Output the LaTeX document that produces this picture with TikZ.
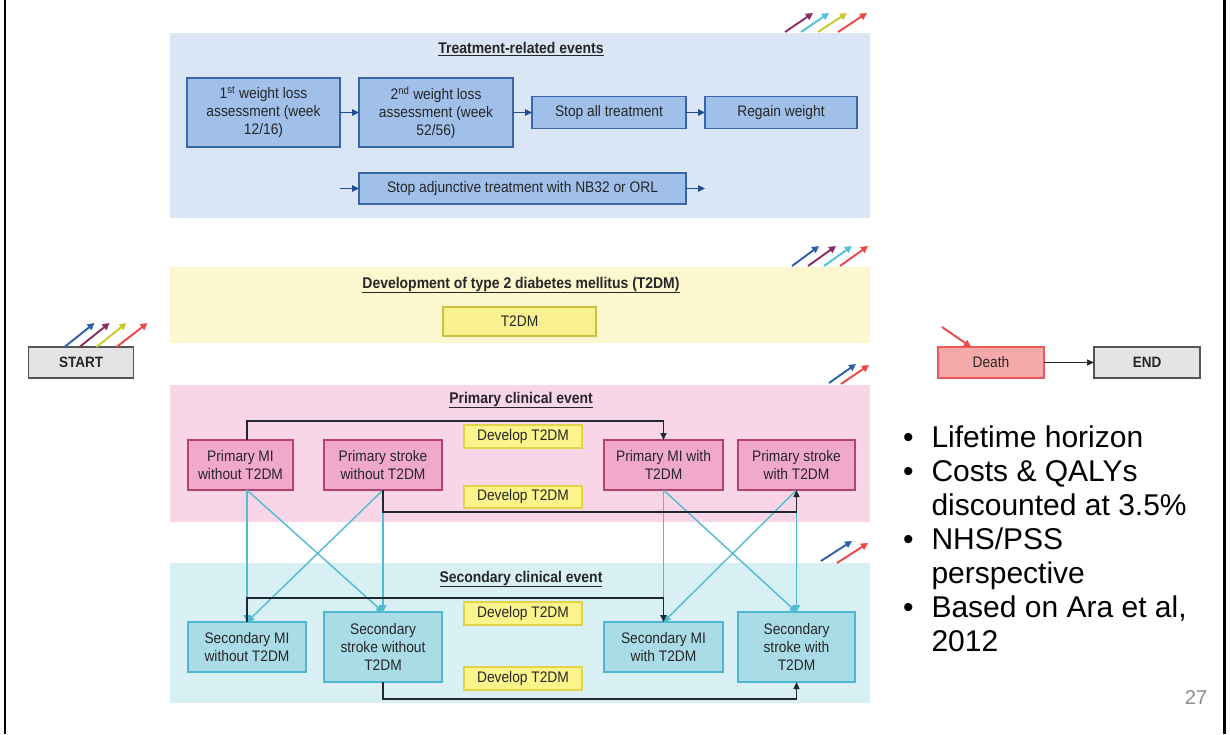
\documentclass[tikz,border=0pt]{standalone}
\usepackage{fontspec}
\setmainfont{Liberation Sans}
\newfontfamily\boxfont[FakeStretch=0.9]{Liberation Sans}
\usetikzlibrary{arrows.meta,calc}

\definecolor{tpanelc}{HTML}{DAE5F6}
\definecolor{tfill}{HTML}{A0C0EA}
\definecolor{tedge}{HTML}{3A64A8}
\definecolor{tarrow}{HTML}{1F4E8C}
\definecolor{ypanelc}{HTML}{FCF7CF}
\definecolor{yfill}{HTML}{F9F18F}
\definecolor{yedge}{HTML}{CDBF45}
\definecolor{ppanelc}{HTML}{F8D5E7}
\definecolor{pfill}{HTML}{F0A8CD}
\definecolor{pedge}{HTML}{B5426F}
\definecolor{spanelc}{HTML}{D8EFF4}
\definecolor{sfill}{HTML}{AADCE7}
\definecolor{sedge}{HTML}{4DB7D1}
\definecolor{dfill}{HTML}{FBF48B}
\definecolor{dedge}{HTML}{E3D34B}
\definecolor{cyanline}{HTML}{4FBCD3}
\definecolor{darkline}{HTML}{1E2833}
\definecolor{greyfill}{HTML}{E4E4E4}
\definecolor{greyedge}{HTML}{555555}
\definecolor{deathfill}{HTML}{F6A9A9}
\definecolor{deathedge}{HTML}{EC5959}
\definecolor{aBlue}{HTML}{2F5FA8}
\definecolor{aPurple}{HTML}{8B2B63}
\definecolor{aCyan}{HTML}{4EC3DA}
\definecolor{aYellow}{HTML}{C9C72A}
\definecolor{aRed}{HTML}{EF4545}
\definecolor{txt}{HTML}{262626}

\tikzset{
  every node/.style={inner sep=0pt, outer sep=0pt},
  boxtxt/.style={font=\boxfont\fontsize{15.3}{18}\selectfont, align=center, text=txt},
  panel/.style={draw=none},
  paneltitle/.style={font=\boxfont\bfseries\fontsize{15.5}{18}\selectfont, text=txt},
  tbox/.style={boxtxt, draw=tedge, fill=tfill, line width=1.2pt},
  ybox/.style={boxtxt, draw=yedge, fill=yfill, line width=1.1pt},
  pbox/.style={boxtxt, draw=pedge, fill=pfill, line width=1.2pt},
  sbox/.style={boxtxt, draw=sedge, fill=sfill, line width=1.2pt},
  devbox/.style={boxtxt, draw=dedge, fill=dfill, line width=1.1pt},
  greybox/.style={boxtxt, draw=greyedge, fill=greyfill, line width=1.2pt},
  deathbox/.style={boxtxt, draw=deathedge, fill=deathfill, line width=1.2pt},
  flow/.style={draw=tarrow, line width=1.3pt, -{Triangle[length=7pt,width=6.5pt]}},
  blackflow/.style={draw=darkline, line width=1.3pt, -{Triangle[length=7pt,width=6pt]}},
  cyanflow/.style={draw=cyanline, line width=1.4pt, -{Triangle[length=7pt,width=7pt]}},
  deco/.style={line width=1.9pt, -{Triangle[length=7pt,width=7pt]}},
}

\begin{document}
\begin{tikzpicture}[x=1pt, y=-1pt]
  \fill[white] (0,0) rectangle (1230,734);
  \useasboundingbox (0,0) rectangle (1230,734);

  % slide frame, left and right edges
  \fill[black] (3.5,0) rectangle (6.2,734);
  \fill[black] (1223,0) rectangle (1226,734);

  % ---------------- Treatment-related events ----------------
  \node[panel, fill=tpanelc, minimum width=700, minimum height=185] (tpanel) at (520,125.5) {};
  \node[paneltitle] (ttitle) at (521,49) {\underline{Treatment-related events}};
  \node[tbox, minimum width=153, minimum height=69] (b1) at (263.5,112.5)
    {1\textsuperscript{st} weight loss\\assessment (week\\12/16)};
  \node[tbox, minimum width=154, minimum height=69] (b2) at (436,112.5)
    {2\textsuperscript{nd} weight loss\\assessment (week\\52/56)};
  \node[tbox, minimum width=154, minimum height=32] (b3) at (609,112.5) {Stop all treatment};
  \node[tbox, minimum width=152, minimum height=32] (b4) at (781,112.5) {Regain weight};
  \node[tbox, minimum width=327, minimum height=31] (b5) at (522.5,188.5)
    {Stop adjunctive treatment with NB32 or ORL};
  \coordinate (b5in) at (340,188.5);
  \coordinate (b5out) at (705,188.5);
  \draw[flow] (b1.east) -- (b2.west);
  \draw[flow] (b2.east) -- (b3.west);
  \draw[flow] (b3.east) -- (b4.west);
  \draw[flow] (b5in) -- (b5.west);
  \draw[flow] (b5.east) -- (b5out);

  \draw[deco, aPurple] (785,32) -- (813,13);
  \draw[deco, aCyan]   (801,32) -- (829,13);
  \draw[deco, aYellow] (818,32) -- (847,13);
  \draw[deco, aRed]    (838,32) -- (867,13);

  % ---------------- Development of T2DM ----------------
  \node[panel, fill=ypanelc, minimum width=700, minimum height=76] (ypanel) at (520,305) {};
  \node[paneltitle] (ytitle) at (521,285) {\underline{Development of type 2 diabetes mellitus (T2DM)}};
  \node[ybox, minimum width=153, minimum height=29] (t2dm) at (519.5,321.5) {T2DM};

  \draw[deco, aBlue]   (792,266) -- (819,246);
  \draw[deco, aPurple] (808,266) -- (836,246);
  \draw[deco, aCyan]   (824,266) -- (852,246);
  \draw[deco, aRed]    (840,266) -- (868,246);

  % ---------------- START / Death / END ----------------
  \node[greybox, minimum width=105, minimum height=31, font=\boxfont\bfseries\fontsize{15}{18}\selectfont] (start) at (81,362.5) {START};
  \node[deathbox, minimum width=106, minimum height=31] (death) at (991,362.5) {Death};
  \node[greybox, minimum width=106, minimum height=31, font=\boxfont\bfseries\fontsize{15}{18}\selectfont] (endnode) at (1147,362.5) {END};
  \draw[blackflow] (death.east) -- (endnode.west);

  \draw[deco, aBlue]   ($(start.north west)+(36,0)$) -- ++(30,-24);
  \draw[deco, aPurple] ($(start.north west)+(51,0)$) -- ++(30,-24);
  \draw[deco, aYellow] ($(start.north west)+(68,0)$) -- ++(30,-24);
  \draw[deco, aRed]    ($(start.north west)+(88,0)$) -- ++(31,-24);
  \draw[deco, aRed]    ($(death.north west)+(4,-20)$) -- ($(death.north west)+(33,0)$);

  % ---------------- Primary clinical event ----------------
  \node[panel, fill=ppanelc, minimum width=700, minimum height=137] (ppanel) at (520,453.5) {};
  \node[paneltitle] (ptitle) at (521,400) {\underline{Primary clinical event}};
  \node[pbox, minimum width=105, minimum height=50] (p1) at (240.5,465) {Primary MI\\without T2DM};
  \node[pbox, minimum width=118, minimum height=50] (p2) at (383,465) {Primary stroke\\without T2DM};
  \node[pbox, minimum width=119, minimum height=50] (p3) at (663.5,465) {Primary MI with\\T2DM};
  \node[pbox, minimum width=117, minimum height=50] (p4) at (796.5,465) {Primary stroke\\with T2DM};
  \node[devbox, minimum width=118, minimum height=23] (dev1) at (523,436.5) {Develop T2DM};
  \node[devbox, minimum width=118, minimum height=22] (dev2) at (523,497) {Develop T2DM};

  \draw[deco, aBlue] (829,383) -- (856,364);
  \draw[deco, aRed]  (841,384) -- (869,365);

  % ---------------- Secondary clinical event ----------------
  \node[panel, fill=spanelc, minimum width=700, minimum height=140] (spanel) at (520,633) {};
  \node[paneltitle] (stitle) at (521,579) {\underline{Secondary clinical event}};
  \node[sbox, minimum width=118, minimum height=50] (s1) at (247,647) {Secondary MI\\without T2DM};
  \node[sbox, minimum width=118, minimum height=70] (s2) at (383,647) {Secondary\\stroke without\\T2DM};
  \node[sbox, minimum width=119, minimum height=50] (s3) at (663.5,647) {Secondary MI\\with T2DM};
  \node[sbox, minimum width=117, minimum height=70] (s4) at (796.5,647) {Secondary\\stroke with\\T2DM};
  \node[devbox, minimum width=118, minimum height=23] (dev3) at (523,613.5) {Develop T2DM};
  \node[devbox, minimum width=118, minimum height=23] (dev4) at (523,678.5) {Develop T2DM};

  \draw[deco, aBlue] (821,561) -- (852,541);
  \draw[deco, aRed]  (837,563) -- (868,543);

  % primary -> secondary transitions
  \draw[cyanflow] (s1.north |- p1.south) -- (s1.north);
  \draw[cyanflow] (s1.north |- p1.south) -- (s2.north);
  \draw[cyanflow] (p2.south) -- (s1.north);
  \draw[cyanflow] (p2.south) -- (s2.north);
  \draw[cyanflow] (p3.south) -- (s3.north);
  \draw[cyanflow] (p3.south) -- (s4.north);
  \draw[cyanflow] (p4.south) -- (s3.north);
  \draw[cyanflow] (p4.south) -- (s4.north);

  % developing T2DM within each level
  \draw[blackflow] (s1.north |- p1.north) -- ++(0,-19) -| (p3.north);
  \draw[blackflow] (p2.south) -- ++(0,22) -| (p4.south);
  \draw[blackflow] (s1.north) -- ++(0,-24) -| (s3.north);
  \draw[blackflow] (s2.south) -- ++(0,17) -| (s4.south);

  % ---------------- Notes ----------------
  \node[anchor=base west, font=\fontsize{30}{34}\selectfont, text=black, align=left] (notes) at (903,447)
    {\begin{tabular}[t]{@{}l@{\hspace{18pt}}l@{}}
      \textbullet & Lifetime horizon\\
      \textbullet & Costs \& QALYs\\
                  & discounted at 3.5\%\\
      \textbullet & NHS/PSS\\
                  & perspective\\
      \textbullet & Based on Ara et al,\\
                  & 2012
     \end{tabular}};
  \node[font=\fontsize{20}{24}\selectfont, text=black!45] (pageno) at (1196,698) {27};
\end{tikzpicture}
\end{document}
